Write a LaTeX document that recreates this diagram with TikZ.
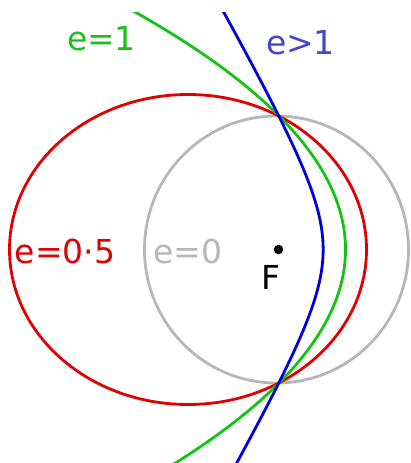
\documentclass[tikz,border=0pt]{standalone}
\usepackage{fontspec}
\setmainfont{DejaVu Sans}
\definecolor{cred}{RGB}{225,0,0}
\definecolor{cgreen}{RGB}{20,195,20}
\definecolor{cblue}{RGB}{0,0,220}
\definecolor{cbluet}{RGB}{65,70,205}
\definecolor{cgray}{RGB}{183,183,183}
\begin{document}
\begin{tikzpicture}[x=1pt,y=-1pt,
  curve/.style={line width=2.8pt},
  lbl/.style={inner sep=0pt,font=\fontsize{33}{37}\selectfont}]
\useasboundingbox (0,0) rectangle (410,463);
\begin{scope}
\clip (0,12.5) rectangle (410,463);
% e=0 circle
\draw[curve,cgray] (276.5,249.5) ellipse [x radius=132, y radius=133.5];
% e=0.5 ellipse
\draw[curve,cred] (188,249.5) ellipse [x radius=178.5, y radius=155];
% e=1 parabola
\draw[curve,cgreen] plot[domain=-1.78:1.61,samples=120,smooth]
  ({278.5+134*(0.5-\x*\x/2)},{249.5+134*\x});
% e=2 hyperbola
\draw[curve,cblue] plot[domain=-1.78:1.61,samples=120,smooth]
  ({278.5+134*(2-sqrt(1+3*\x*\x))/3},{249.5+134*\x});
\end{scope}
\fill (278.5,249.5) circle (4.8);
\node[lbl,cgreen] (l1) at (101.5,39) {e=1};
\node[lbl,cbluet] (l2) at (300.5,42.5) {e>1};
\node[lbl,cred] (l3) at (65,251) {e=0·5};
\node[lbl,cgray] (l4) at (188,251) {e=0};
\node[lbl] (lf) at (270.5,277) {F};
\end{tikzpicture}
\end{document}
